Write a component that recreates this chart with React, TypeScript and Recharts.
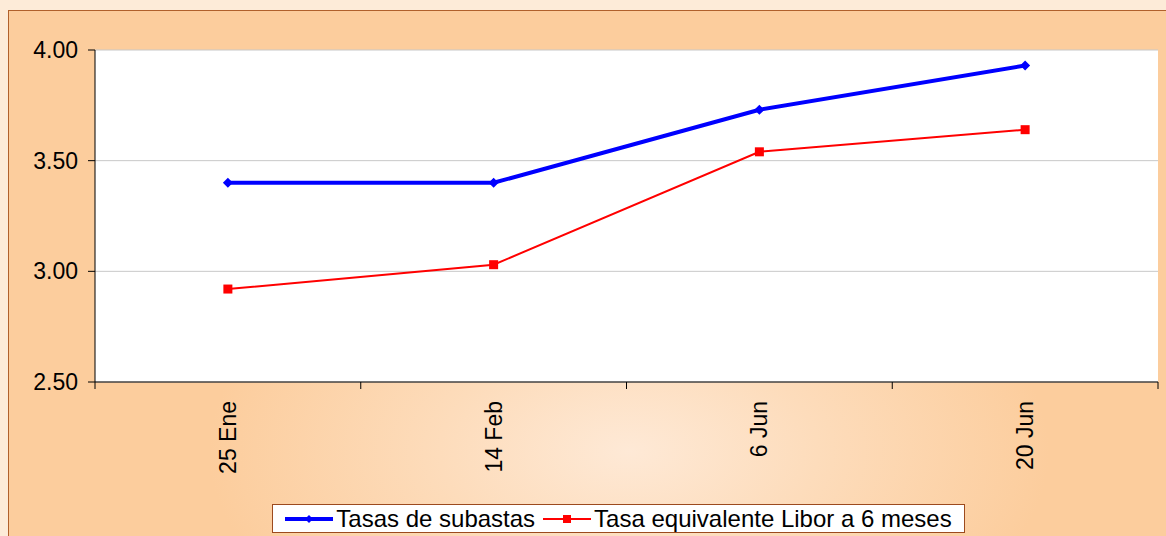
import React from "react";
import {
	LineChart,
	Line,
	XAxis,
	YAxis,
	CartesianGrid,
	Legend,
} from "recharts";

const categories = ["25 Ene", "14 Feb", "6 Jun", "20 Jun"];
const subastas = [3.4, 3.4, 3.73, 3.93];
const libor = [2.92, 3.03, 3.54, 3.64];
const yTicks = [2.5, 3.0, 3.5, 4.0];

const SERIES = [
	{ key: "subastas", name: "Tasas de subastas", color: "#0000ff", width: 4, shape: "diamond" },
	{ key: "libor", name: "Tasa equivalente Libor a 6 meses", color: "#ff0000", width: 2, shape: "square" },
];

const data = categories.map((c, i) => ({
	fecha: c,
	subastas: subastas[i],
	libor: libor[i],
}));

const FONT = "'Liberation Sans', Arial, sans-serif";
const PLOT_W = 1063;

function Diamond(props: any) {
	const { cx, cy } = props;
	if (cx == null || cy == null) return null;
	const r = 5;
	return (
		<polygon
			points={`${cx},${cy - r} ${cx + r},${cy} ${cx},${cy + r} ${cx - r},${cy}`}
			fill="#0000ff"
		/>
	);
}

function Square(props: any) {
	const { cx, cy } = props;
	if (cx == null || cy == null) return null;
	return <rect x={cx - 4.5} y={cy - 4.5} width={9} height={9} fill="#ff0000" />;
}

// category labels rotated, tick marks drawn at the band edges
function XTick(props: any) {
	const { x, y, payload, index, visibleTicksCount } = props;
	const band = PLOT_W / categories.length;
	const top = y - 8;
	return (
		<g>
			<line x1={x - band / 2} y1={top} x2={x - band / 2} y2={top + 7} stroke="#000" />
			{index === visibleTicksCount - 1 && (
				<line x1={x + band / 2} y1={top} x2={x + band / 2} y2={top + 7} stroke="#000" />
			)}
			<text
				x={x}
				y={top + 19}
				transform={`rotate(-90, ${x}, ${top + 19})`}
				textAnchor="end"
				dy="0.35em"
				fontSize={23}
				fontFamily={FONT}
				fill="#000"
			>
				{payload.value}
			</text>
		</g>
	);
}

function LegendBox() {
	return (
		<div style={{ display: "flex", justifyContent: "center" }}>
			<div
				style={{
					display: "flex",
					alignItems: "center",
					background: "#fff",
					border: "1px solid #9c4a1e",
					height: 27,
					padding: "0 6px 0 10px",
					fontFamily: FONT,
					fontSize: 24,
					lineHeight: "27px",
					color: "#000",
				}}
			>
				{SERIES.map((s) => (
					<div key={s.key} style={{ display: "flex", alignItems: "center", marginRight: 6 }}>
						<svg width={52} height={20}>
							<line x1={2} y1={10} x2={50} y2={10} stroke={s.color} strokeWidth={s.width} />
							{s.shape === "diamond" ? (
								<polygon points="26,6 30,10 26,14 22,10" fill={s.color} />
							) : (
								<rect x={22} y={6} width={8} height={8} fill={s.color} />
							)}
						</svg>
						<span style={{ marginLeft: 1 }}>{s.name}</span>
					</div>
				))}
			</div>
		</div>
	);
}

export default function App() {
	return (
		<div
			style={{
				position: "absolute",
				left: 0,
				top: 0,
				width: 1166,
				height: 536,
				background: "#fdebd8",
				overflow: "hidden",
			}}
		>
			<div
				style={{
					position: "absolute",
					left: 8,
					top: 10,
					width: 1170,
					height: 540,
					border: "1px solid #b0602c",
					background:
						"radial-gradient(ellipse 420px 240px at 620px 440px, #fee9d6 0%, #fddcbb 45%, #fccd9d 100%)",
				}}
			>
				<LineChart
					width={1157}
					height={525}
					data={data}
					margin={{ top: 39, right: 8, bottom: 0, left: 0 }}
				>
					<CartesianGrid
						vertical={false}
						stroke="#c8c8c8"
						fill="#ffffff"
						fillOpacity={1}
					/>
					<XAxis
						dataKey="fecha"
						scale="band"
						axisLine={{ stroke: "#000" }}
						tickLine={false}
						tick={<XTick />}
						height={125}
						interval={0}
					/>
					<YAxis
						domain={[2.5, 4]}
						ticks={yTicks}
						tickFormatter={(v: number) => v.toFixed(2)}
						width={86}
						axisLine={{ stroke: "#000" }}
						tickLine={{ stroke: "#000" }}
						tickSize={7}
						tickMargin={10}
						tick={{ fontSize: 23, fontFamily: FONT, fill: "#000" }}
						allowDataOverflow
					/>
					<YAxis
						yAxisId="right"
						orientation="right"
						width={0}
						tick={false}
						tickLine={false}
						axisLine={{ stroke: "#a0522d" }}
					/>
					<Legend
						verticalAlign="bottom"
						content={() => <LegendBox />}
						wrapperStyle={{ bottom: 3, left: 78, width: PLOT_W }}
					/>
					<Line
						type="linear"
						dataKey="subastas"
						name="Tasas de subastas"
						stroke="#0000ff"
						strokeWidth={4}
						dot={<Diamond />}
						activeDot={false}
						isAnimationActive={false}
					/>
					<Line
						type="linear"
						dataKey="libor"
						name="Tasa equivalente Libor a 6 meses"
						stroke="#ff0000"
						strokeWidth={2}
						dot={<Square />}
						activeDot={false}
						isAnimationActive={false}
					/>
				</LineChart>
			</div>
		</div>
	);
}
